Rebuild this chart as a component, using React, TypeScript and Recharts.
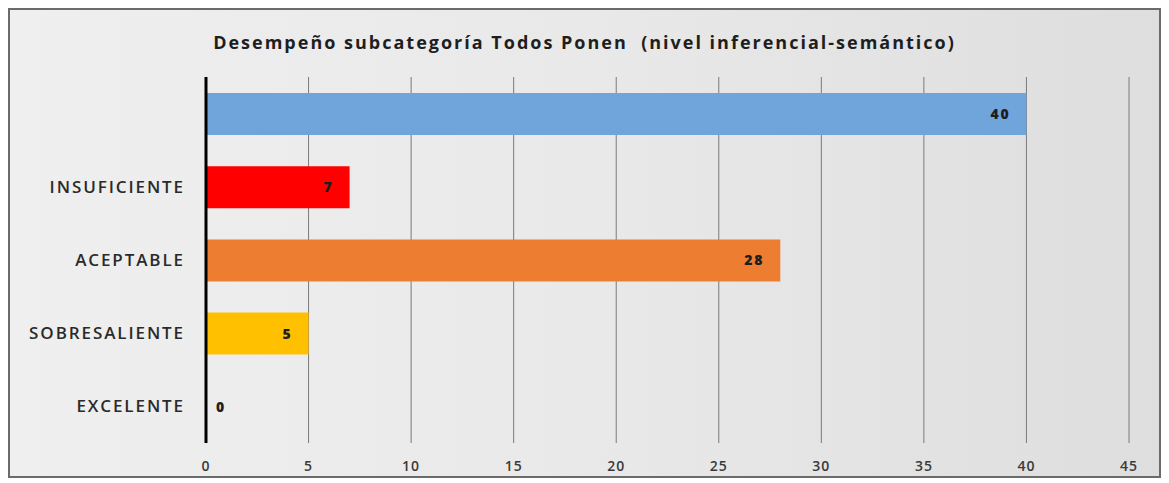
import React from "react";
import { BarChart, Bar, XAxis, YAxis, CartesianGrid, Cell } from "recharts";

const CATEGORIES = ["", "INSUFICIENTE", "ACEPTABLE", "SOBRESALIENTE", "EXCELENTE"];
const VALUES = [40, 7, 28, 5, 0];
const COLORS = ["#6fa5da", "#ff0000", "#ed7d31", "#ffc000", "transparent"];
const X_TICKS = [0, 5, 10, 15, 20, 25, 30, 35, 40, 45];
const TITLE = "Desempeño subcategoría Todos Ponen  (nivel inferencial-semántico)";

const data = CATEGORIES.map((name, i) => ({ name, value: VALUES[i] }));

const FONT = "'Open Sans', sans-serif";

const renderLabel = (props: any) => {
  const { x, y, width, height, value } = props;
  const cy = y + height / 2;
  const zero = value === 0;
  return (
    <text
      x={zero ? x + 10 : x + width - 16}
      y={cy}
      dy={5}
      textAnchor={zero ? "start" : "end"}
      fontSize={14}
      fontWeight={800}
      letterSpacing={1.8}
      fill="#1e1e1e"
      fontFamily={FONT}
    >
      {value}
    </text>
  );
};

export default function App() {
  return (
    <div
      style={{
        position: "relative",
        width: 1149,
        height: 466,
        border: "2px solid #6b6b6b",
        background: "linear-gradient(to right, #efefef 0%, #e9e9e9 50%, #dedede 100%)",
        fontFamily: FONT,
      }}
    >
      <div
        style={{
          position: "absolute",
          top: 20,
          left: 0,
          width: "100%",
          textAlign: "center",
          fontSize: 18,
          fontWeight: 700,
          color: "#1e1e1e",
          letterSpacing: 2,
          whiteSpace: "pre",
        }}
      >
        {TITLE}
      </div>
      <BarChart
        width={1149}
        height={466}
        data={data}
        layout="vertical"
        margin={{ top: 67, right: 30, left: 16, bottom: 3 }}
        barSize={42}
      >
        <CartesianGrid horizontal={false} stroke="#7a7a7a" strokeWidth={1} />
        <XAxis
          type="number"
          domain={[0, 45]}
          ticks={X_TICKS}
          axisLine={false}
          tickLine={false}
          height={30}
          tick={{ fill: "#3a3a3a", fontSize: 14, fontWeight: 600, fontFamily: FONT, letterSpacing: 1, dy: 10 }}
        />
        <YAxis
          type="category"
          dataKey="name"
          width={180}
          axisLine={{ stroke: "#000", strokeWidth: 3 }}
          tickLine={false}
          tick={{ fill: "#2a2a2a", fontSize: 17, fontWeight: 600, fontFamily: FONT, letterSpacing: 1.9, dx: -13 }}
        />
        <Bar
          dataKey="value"
          isAnimationActive={false}
          label={renderLabel}
          minPointSize={(v: number) => (v === 0 ? 1 : 0)}
        >
          {data.map((d, i) => (
            <Cell key={d.name + i} fill={COLORS[i]} />
          ))}
        </Bar>
      </BarChart>
    </div>
  );
}
